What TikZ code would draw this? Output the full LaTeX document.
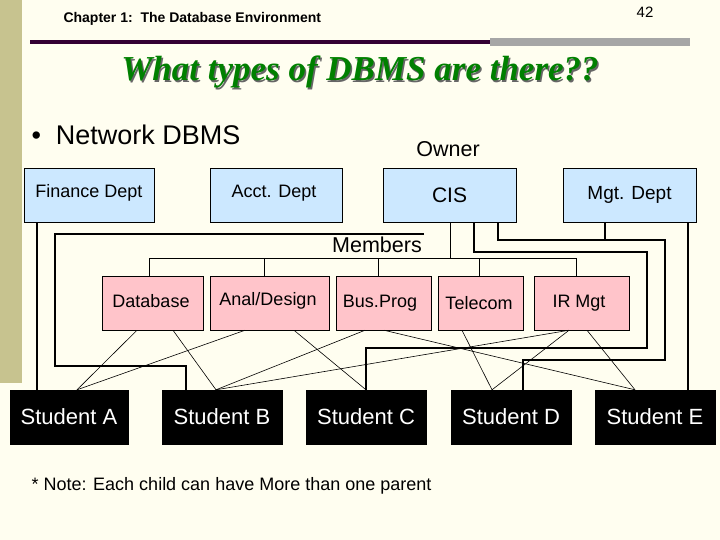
\documentclass[tikz,border=0pt]{standalone}
\usepackage{fontspec}
\setmainfont{Liberation Sans}
\newfontfamily\titlefont{Liberation Serif}
\definecolor{boxblue}{HTML}{CCE8FF}
\definecolor{boxpink}{HTML}{FFC4CA}
\begin{document}
\begin{tikzpicture}[x=1pt,y=-1pt,
  blue/.style={draw=black,fill=boxblue,line width=0.5pt,inner sep=0pt},
  pink/.style={draw=black,fill=boxpink,line width=0.5pt,inner sep=0pt},
  stud/.style={draw=black,fill=black,text=white,inner sep=0pt,font=\fontsize{22}{25}\selectfont},
  thick/.style={line width=2.5pt},
  thin/.style={line width=0.6pt},
  lbl/.style={font=\fontsize{18}{21}\selectfont}]
\useasboundingbox (0,0) rectangle (720,540);
\fill[yellow!6] (0,0) rectangle (720,540);
\fill[olive!30!yellow!40!gray!70] (0,0) rectangle (22,383);
\fill[black!35] (490,38) rectangle (690,46);
\fill[violet!40!black] (30,40) rectangle (490,44);
\node[anchor=west,font=\fontsize{14}{16}\selectfont\bfseries] (chap) at (60,19) {Chapter 1:\ \ The Database Environment};
\node[font=\fontsize{15}{17}\selectfont] (pg) at (645,12) {42};
\node[font=\titlefont\fontsize{35}{38}\selectfont\bfseries\itshape,text=black!60] (tsh) at (361.5,73.5) {What types of DBMS are there??};
\node[font=\titlefont\fontsize{35}{38}\selectfont\bfseries\itshape,text=green!50!black] (title) at (360,72) {What types of DBMS are there??};
\node[anchor=west,font=\fontsize{27}{30}\selectfont] (net) at (28,135) {\textbullet\ \ Network DBMS};
\node[font=\fontsize{21.5}{24}\selectfont] (owner) at (448,149) {Owner};
\node[font=\fontsize{21.5}{24}\selectfont] (members) at (377,245) {Members};
% owners
\node[blue,minimum width=130,minimum height=54,lbl] (fin) at (89,195) {};
\node[lbl] (fint) at (89,193) {Finance Dept};
\node[blue,minimum width=132,minimum height=54,lbl] (acct) at (276,195) {};
\node[lbl] (acctt) at (274,193) {Acct. Dept};
\node[blue,minimum width=133,minimum height=54,font=\fontsize{21}{24}\selectfont] (cis) at (449.5,195) {CIS};
\node[blue,minimum width=133,minimum height=54,font=\fontsize{19}{22}\selectfont] (mgt) at (629.5,195) {Mgt. Dept};
% members
\node[pink,minimum width=101,minimum height=54,lbl] (db) at (152.5,303) {};
\node[lbl] (dbt) at (151,301) {Database};
\node[pink,minimum width=119,minimum height=54,lbl] (an) at (269.5,303) {};
\node[lbl] (ant) at (268,301) {Anal/Design};
\node[pink,minimum width=95,minimum height=54,lbl] (bus) at (383.5,303) {};
\node[lbl] (bust) at (380,303) {Bus.Prog};
\node[pink,minimum width=85,minimum height=54,lbl] (tel) at (480.5,303) {};
\node[lbl] (telt) at (479,303) {Telecom};
\node[pink,minimum width=95,minimum height=54,lbl] (ir) at (581.5,303) {};
\node[lbl] (irt) at (579,303) {IR Mgt};
% students
\node[stud,minimum width=118,minimum height=54] (sa) at (69,417) {Student A};
\node[stud,minimum width=120,minimum height=54] (sb) at (222,417) {Student B};
\node[stud,minimum width=120,minimum height=54] (sc) at (366,417) {Student C};
\node[stud,minimum width=120,minimum height=54] (sd) at (511,417) {Student D};
\node[stud,minimum width=120,minimum height=54] (se) at (655,417) {Student E};
\node[anchor=west,font=\fontsize{18}{21}\selectfont] (note) at (28,486) {* Note: Each child can have More than one parent};
% thin tree
\coordinate (tj) at (450,258);
\draw[thin] (cis.south -| tj) -- (tj);
\draw[thin] (149,258) -- (576,258);
\draw[thin] (149,258) -- (db.north -| 149,0);
\draw[thin] (264,258) -- (an.north -| 264,0);
\draw[thin] (378,258) -- (bus.north -| 378,0);
\draw[thin] (479,258) -- (tel.north -| 479,0);
\draw[thin] (576,258) -- (ir.north -| 576,0);
% thick lines
\draw[thick] (fin.south -| 37,0) -- (sa.north -| 37,0);
\draw[thick] (424,234) -- (55,234) -- (55,366) -- (186,366) -- (sb.north -| 186,0);
\draw[thick] (cis.south -| 474,0) -- (474,252) -- (647,252) -- (647,348) -- (366,348) -- (sc.north -| 366,0);
\draw[thick] (cis.south -| 498,0) -- (498,240) -- (665,240) -- (665,360) -- (523,360) -- (sd.north -| 523,0);
\draw[thick] (mgt.south -| 605,0) -- (605,240);
\draw[thick] (mgt.south -| 688,0) -- (se.north -| 688,0);
% crossing lines
\draw[thin] (db.south -| 137,0) -- (sa.north -| 77,0);
\draw[thin] (db.south -| 173,0) -- (sb.north -| 216,0);
\draw[thin] (an.south -| 245,0) -- (sa.north -| 77,0);
\draw[thin] (an.south -| 294,0) -- (sc.north -| 366,0);
\draw[thin] (bus.south -| 365,0) -- (sb.north -| 216,0);
\draw[thin] (bus.south -| 384,0) -- (se.north -| 635,0);
\draw[thin] (tel.south -| 462,0) -- (sd.north -| 492,0);
\draw[thin] (ir.south -| 569,0) -- (sb.north -| 216,0);
\draw[thin] (ir.south -| 569,0) -- (sd.north -| 492,0);
\draw[thin] (ir.south -| 587,0) -- (se.north -| 635,0);
\end{tikzpicture}
\end{document}
